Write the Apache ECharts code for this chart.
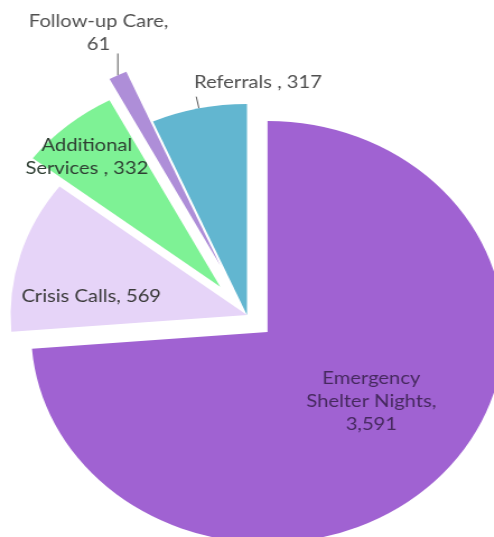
<!DOCTYPE html>
<html><head><meta charset="utf-8">
<script src="https://cdn.jsdelivr.net/npm/echarts@6/dist/echarts.min.js"></script>
<style>
html,body{margin:0;padding:0;background:#fff;overflow:hidden;width:494px;height:537px;}
#chart{width:441px;height:537px;transform:scaleX(1.12);transform-origin:0 0;}
</style></head><body><div id="chart"></div>
<script>
// data
const categories = ['Emergency Shelter Nights', 'Crisis Calls', 'Additional Services ', 'Follow-up Care', 'Referrals '];
const values = [3591, 569, 332, 61, 317];

// styles
const colors = ['#A062D2', '#E6D4F8', '#7EF295', '#AE8ED8', '#62B6D0'];
const explode = [25, 0, 37, 55, 0];
const outside = [false, false, false, true, true];
const verticalLeader = [false, false, false, true, false];
const textColors = ['#46295f', '#3a3a3a', '#2f3f33', '#505050', '#505050'];
const labelShift = [[13, -4], [-35, 12], [-49, -47], [-7, -32], [3, -14]];
const labelAlign = [null, null, null, 'center', 'left'];

const fmt = v => Number(v).toLocaleString('en-US');
const formatters = [
  p => p.name.replace(' Shelter', '\nShelter') + ',\n' + fmt(p.value),
  p => p.name + ', ' + fmt(p.value),
  p => p.name.replace(' ', '\n') + ', ' + fmt(p.value),
  p => p.name + ',\n' + fmt(p.value),
  p => p.name + ', ' + fmt(p.value)
];

const chart = echarts.init(document.getElementById('chart'), null, {renderer: 'canvas'});

function makeSeries(k) {
  return {
    type: 'pie',
    silent: true,
    animation: false,
    center: [220.5, 315],
    radius: [0, 211],
    startAngle: 90,
    clockwise: true,
    avoidLabelOverlap: false,
    selectedMode: 'single',
    selectedOffset: explode[k],
    emphasis: {disabled: true},
    label: {
      show: true,
      position: outside[k] ? 'outside' : 'inside',
      formatter: formatters[k],
      fontFamily: 'Lato',
      fontSize: 18,
      lineHeight: 23,
      color: textColors[k],
      align: 'center'
    },
    labelLine: {show: outside[k], length: 12, length2: 0, lineStyle: {color: '#595959', width: 1}},
    labelLayout: function (params) {
      if (params.dataIndex !== k) return {};
      const o = {dx: labelShift[k][0], dy: labelShift[k][1]};
      if (labelAlign[k]) o.align = labelAlign[k];
      if (verticalLeader[k] && params.labelLinePoints) {
        const p0 = params.labelLinePoints[0];
        const bottom = params.labelRect.y + params.labelRect.height + labelShift[k][1] - 2;
        o.labelLinePoints = [[p0[0], p0[1]], [p0[0], bottom]];
      }
      return o;
    },
    data: categories.map((n, i) => ({
      name: n,
      value: values[i],
      selected: i === k && explode[k] > 0,
      itemStyle: {color: i === k ? colors[i] : 'rgba(0,0,0,0)', borderWidth: 0},
      label: {show: i === k},
      labelLine: {show: i === k && outside[k]}
    }))
  };
}

chart.setOption({
  animation: false,
  backgroundColor: '#ffffff',
  series: categories.map((_, k) => makeSeries(k))
});
</script></body></html>
